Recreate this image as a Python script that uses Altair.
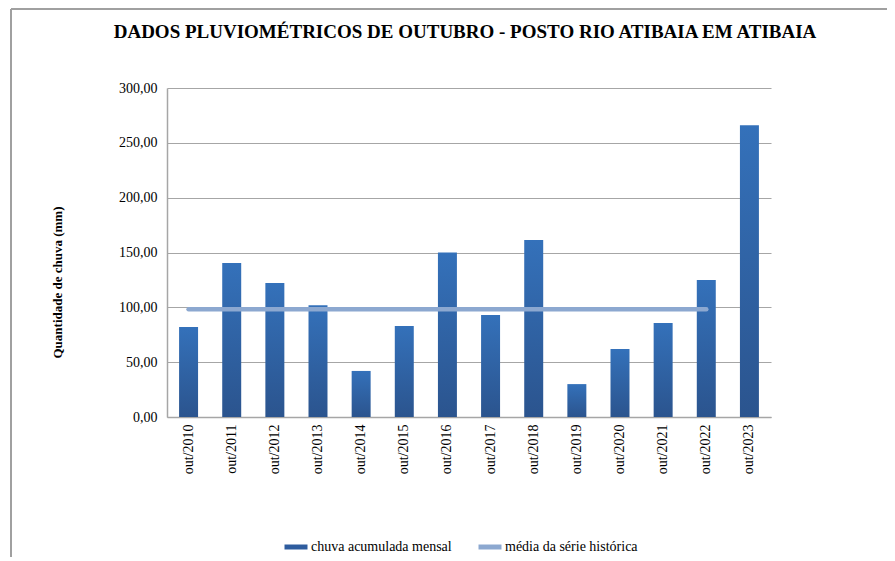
import altair as alt
import pandas as pd

categorias = ["out/2010", "out/2011", "out/2012", "out/2013", "out/2014", "out/2015", "out/2016",
              "out/2017", "out/2018", "out/2019", "out/2020", "out/2021", "out/2022", "out/2023"]
chuva = [82.0, 140.4, 122.2, 102.0, 42.0, 83.0, 150.0, 93.0, 161.4, 30.0, 62.0, 85.7, 125.0, 266.0]
media_categorias = categorias[:13]
media = [98.3] * 13

serie_bar = "chuva acumulada mensal"
serie_linha = "média da série histórica"

df_bar = pd.DataFrame({"mes": categorias, "valor": chuva, "serie": serie_bar})
df_linha = pd.DataFrame({"mes": media_categorias, "valor": media, "serie": serie_linha})

FONT = "Liberation Serif"
GRID = "#A6A6A6"

x_enc = alt.X("mes:N", sort=categorias, title=None,
              scale=alt.Scale(domain=categorias, paddingInner=0.56, paddingOuter=0.28),
              axis=alt.Axis(labelAngle=-90, labelFont=FONT, labelFontSize=14, labelColor="black",
                            labelPadding=7, ticks=False, domainColor=GRID, domainWidth=1.5,
                            labelBaseline="middle", labelAlign="right"))
y_enc = alt.Y("valor:Q", title="Quantidade de chuva (mm)",
              scale=alt.Scale(domain=[0, 300], nice=False),
              axis=alt.Axis(values=[0, 50, 100, 150, 200, 250, 300],
                            labelExpr="replace(format(datum.value, '.2f'), '.', ',')",
                            labelFont=FONT, labelFontSize=14, labelColor="black", labelPadding=10,
                            ticks=False, domainColor=GRID, domainWidth=1.5,
                            gridColor=GRID, gridWidth=1.2,
                            titleFont=FONT, titleFontSize=13, titleFontWeight="bold", titleColor="black",
                            titleX=-110, titleY=194, titleBaseline="middle"))

bars = alt.Chart(df_bar).mark_bar(
    color=alt.Gradient(gradient="linear",
                       stops=[alt.GradientStop(color="#3471BA", offset=0),
                              alt.GradientStop(color="#2B548E", offset=1)],
                       x1=0, x2=0, y1=0, y2=1)
).encode(x=x_enc, y=y_enc)

linha = alt.Chart(df_linha).mark_line(strokeWidth=4.5, strokeCap="round").encode(
    x=alt.X("mes:N", sort=categorias),
    y=alt.Y("valor:Q"),
    color=alt.Color("serie:N",
                    scale=alt.Scale(domain=[serie_bar, serie_linha], range=["#2E5C9E", "#8CA8D0"]),
                    legend=alt.Legend(title=None, orient="none", direction="horizontal",
                                      legendX=115, legendY=445,
                                      labelFont=FONT, labelFontSize=14, labelColor="black",
                                      symbolType="stroke", symbolSize=529, symbolStrokeWidth=5,
                                      labelOffset=1, columnPadding=16))
)

frame_top = alt.Chart(df_bar).mark_rule(color="#A0A0A0", strokeWidth=1.5).encode(
    x=alt.value(-156), x2=alt.value(760), y=alt.value(-79), y2=alt.value(-79))
frame_left = alt.Chart(df_bar).mark_rule(color="#A0A0A0", strokeWidth=1.5).encode(
    x=alt.value(-156), x2=alt.value(-156), y=alt.value(-79), y2=alt.value(470))

chart = alt.layer(frame_top, frame_left, bars, linha).properties(
    width=604, height=329,
    autosize=alt.AutoSizeParams(type="none"),
    padding={"left": 159, "top": 80, "right": 116, "bottom": 140},
    title=alt.TitleParams("DADOS PLUVIOMÉTRICOS DE OUTUBRO - POSTO RIO ATIBAIA EM ATIBAIA",
                          font=FONT, fontSize=19, fontWeight="bold", color="black",
                          anchor="middle", offset=-34, dx=-4)
).configure_view(stroke=None).configure_axis(grid=True).configure_axisX(grid=False)

chart.save("out.html", embed_options={"renderer": "svg", "actions": False})
